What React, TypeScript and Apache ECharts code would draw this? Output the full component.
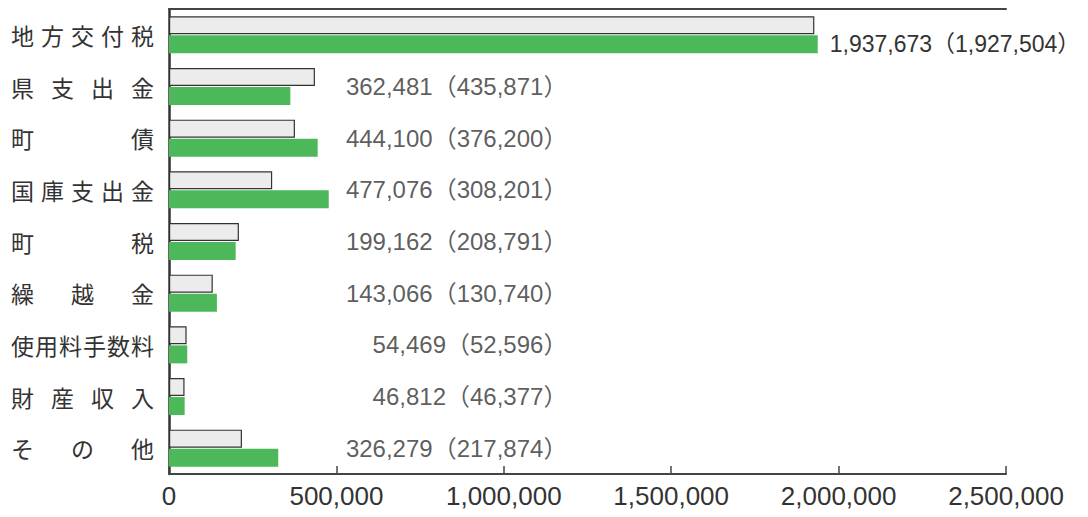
import React, { useEffect, useRef } from "react";
import * as echarts from "echarts";

const categories = ["地方交付税", "県支出金", "町債", "国庫支出金", "町税", "繰越金", "使用料手数料", "財産収入", "その他"];
const current = [1937673, 362481, 444100, 477076, 199162, 143066, 54469, 46812, 326279];
const previous = [1927504, 435871, 376200, 308201, 208791, 130740, 52596, 46377, 217874];
const xTicks = [0, 500000, 1000000, 1500000, 2000000, 2500000];

const fmt = (v: number) => v.toLocaleString("en-US");
const CJK = '"Noto Sans CJK JP", "Noto Sans CJK SC", sans-serif';
const LAT = '"Liberation Sans", Arial, "Noto Sans CJK JP", sans-serif';
const CHAR = 23;
const LABEL_W = 143;

export default function App() {
  const ref = useRef<HTMLDivElement>(null);
  useEffect(() => {
    if (!ref.current) return;
    const chart = echarts.init(ref.current, null, { renderer: "svg" });
    const rich: any = { c: { width: CHAR, align: "center", fontSize: CHAR, fontFamily: CJK, color: "#333" } };
    for (let n = 2; n <= 8; n++) {
      rich["g" + n] = { width: Math.max(0, (LABEL_W - n * CHAR) / (n - 1)), fontSize: CHAR };
    }
    const anchor = 1190000;
    chart.setOption({
      animation: false,
      grid: { left: 161, right: 74, top: 1, bottom: 43 },
      xAxis: [
        {
          type: "value",
          min: 0,
          max: 2500000,
          interval: 500000,
          axisLine: { show: true, lineStyle: { color: "#444", width: 2 } },
          axisTick: { show: true, inside: true, length: 8, lineStyle: { color: "#444", width: 1.5 } },
          splitLine: { show: false },
          axisLabel: {
            margin: 9,
            fontSize: 26,
            fontFamily: LAT,
            color: "#333",
            formatter: (v: number) => (xTicks.includes(v) ? fmt(v) : ""),
          },
        },
        {
          type: "value",
          position: "top",
          min: 0,
          max: 2500000,
          axisLine: { show: true, lineStyle: { color: "#444", width: 2 } },
          axisTick: { show: false },
          axisLabel: { show: false },
          splitLine: { show: false },
        },
      ],
      yAxis: {
        type: "category",
        data: categories,
        inverse: true,
        axisLine: { show: true, lineStyle: { color: "#333", width: 2.5 } },
        axisTick: { show: false },
        axisLabel: {
          margin: 15,
          rich,
          formatter: (s: string) => {
            const chars = Array.from(s);
            const n = chars.length;
            return chars.map((ch) => `{c|${ch}}`).join(`{g${n}| }`);
          },
        },
      },
      series: [
        {
          type: "bar",
          name: "前年度",
          data: previous,
          barWidth: 18,
          barGap: "6%",
          itemStyle: { color: "#ececec", borderColor: "#333", borderWidth: 1.2 },
        },
        {
          type: "bar",
          name: "本年度",
          data: current.map((v, i) =>
            i === 0
              ? {
                  value: v,
                  label: {
                    show: true,
                    position: "right",
                    distance: 12,
                    fontSize: 23,
                    fontFamily: LAT,
                    color: "#333",
                    formatter: () => `${fmt(current[0])}（${fmt(previous[0])}）`,
                  },
                }
              : v
          ),
          barWidth: 18,
          itemStyle: { color: "#4cb85a" },
        },
        {
          type: "scatter",
          symbolSize: 0,
          data: categories.map((_, i) => (i === 0 ? "-" : anchor)),
          label: {
            show: true,
            position: "left",
            distance: 0,
            fontSize: 24,
            fontFamily: LAT,
            color: "#333",
            formatter: (p: any) => `${fmt(current[p.dataIndex])}（${fmt(previous[p.dataIndex])}）`,
          },
          silent: true,
        },
      ],
    });
    return () => chart.dispose();
  }, []);
  return <div ref={ref} style={{ width: 1072, height: 509 }} />;
}
